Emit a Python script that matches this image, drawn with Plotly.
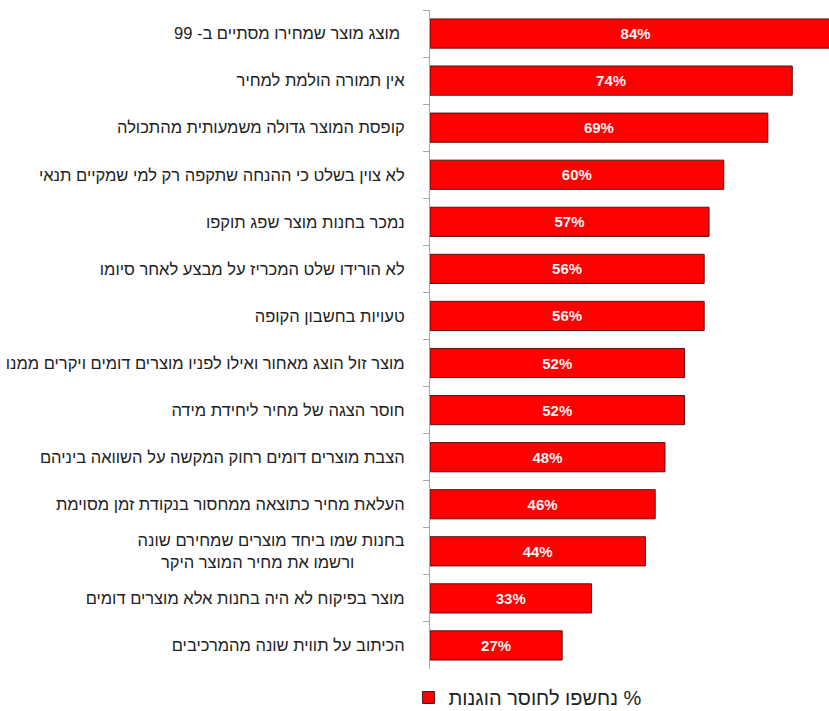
import plotly.graph_objects as go

categories = [
    "מוצג מוצר שמחירו מסתיים ב- 99 ",
    "אין תמורה הולמת למחיר",
    "קופסת המוצר גדולה משמעותית מהתכולה",
    "לא צוין בשלט כי ההנחה שתקפה רק למי שמקיים תנאי",
    "נמכר בחנות מוצר שפג תוקפו",
    "לא הורידו שלט המכריז על מבצע לאחר סיומו",
    "טעויות בחשבון הקופה",
    "מוצר זול הוצג מאחור ואילו לפניו מוצרים דומים ויקרים ממנו",
    "חוסר הצגה של מחיר ליחידת מידה",
    "הצבת מוצרים דומים רחוק המקשה על השוואה ביניהם",
    "העלאת מחיר כתוצאה ממחסור בנקודת זמן מסוימת",
    "בחנות שמו ביחד מוצרים שמחירם שונה<br>ורשמו את מחיר המוצר היקר" + "\u00a0" * 11,
    "מוצר בפיקוח לא היה בחנות אלא מוצרים דומים",
    "הכיתוב על תווית שונה מהמרכיבים",
]
values = [84, 74, 69, 60, 57, 56, 56, 52, 52, 48, 46, 44, 33, 27]
labels = [f"{v}%" for v in values]
series_name = "נחשפו לחוסר הוגנות %"

fig = go.Figure(
    go.Bar(
        x=values,
        y=categories,
        orientation="h",
        name=series_name,
        text=labels,
        textposition="inside",
        insidetextanchor="middle",
        textfont=dict(family="Arial, Liberation Sans, sans-serif", size=15, color="#f2f2f2", weight="bold"),
        marker=dict(color="#ff0000", line=dict(color="#5a1010", width=1)),
        width=0.62,
        showlegend=True,
    )
)

fig.update_layout(
    width=829,
    height=711,
    margin=dict(l=430, r=0, t=10, b=42),
    paper_bgcolor="white",
    plot_bgcolor="white",
    font=dict(family="Arial, Liberation Sans, sans-serif", color="#222222"),
    showlegend=True,
    legend=dict(
        orientation="h",
        xref="container",
        yref="container",
        x=0.781,
        xanchor="right",
        y=0.019,
        yanchor="middle",
        font=dict(size=20, color="#222222"),
    ),
    xaxis=dict(
        range=[0, 81.5],
        showgrid=False,
        showticklabels=False,
        zeroline=False,
        showline=False,
        ticks="",
        fixedrange=True,
    ),
    yaxis=dict(
        autorange="reversed",
        showline=True,
        linecolor="#a8a8a8",
        linewidth=1,
        ticks="outside",
        tickson="boundaries",
        ticklen=6,
        tickwidth=1,
        tickcolor="#a8a8a8",
        ticklabelstandoff=21,
        tickfont=dict(size=16.5, color="#222222"),
        showgrid=False,
        automargin=False,
    ),
    uniformtext=dict(minsize=10, mode="show"),
)

fig.write_html("out.html")
